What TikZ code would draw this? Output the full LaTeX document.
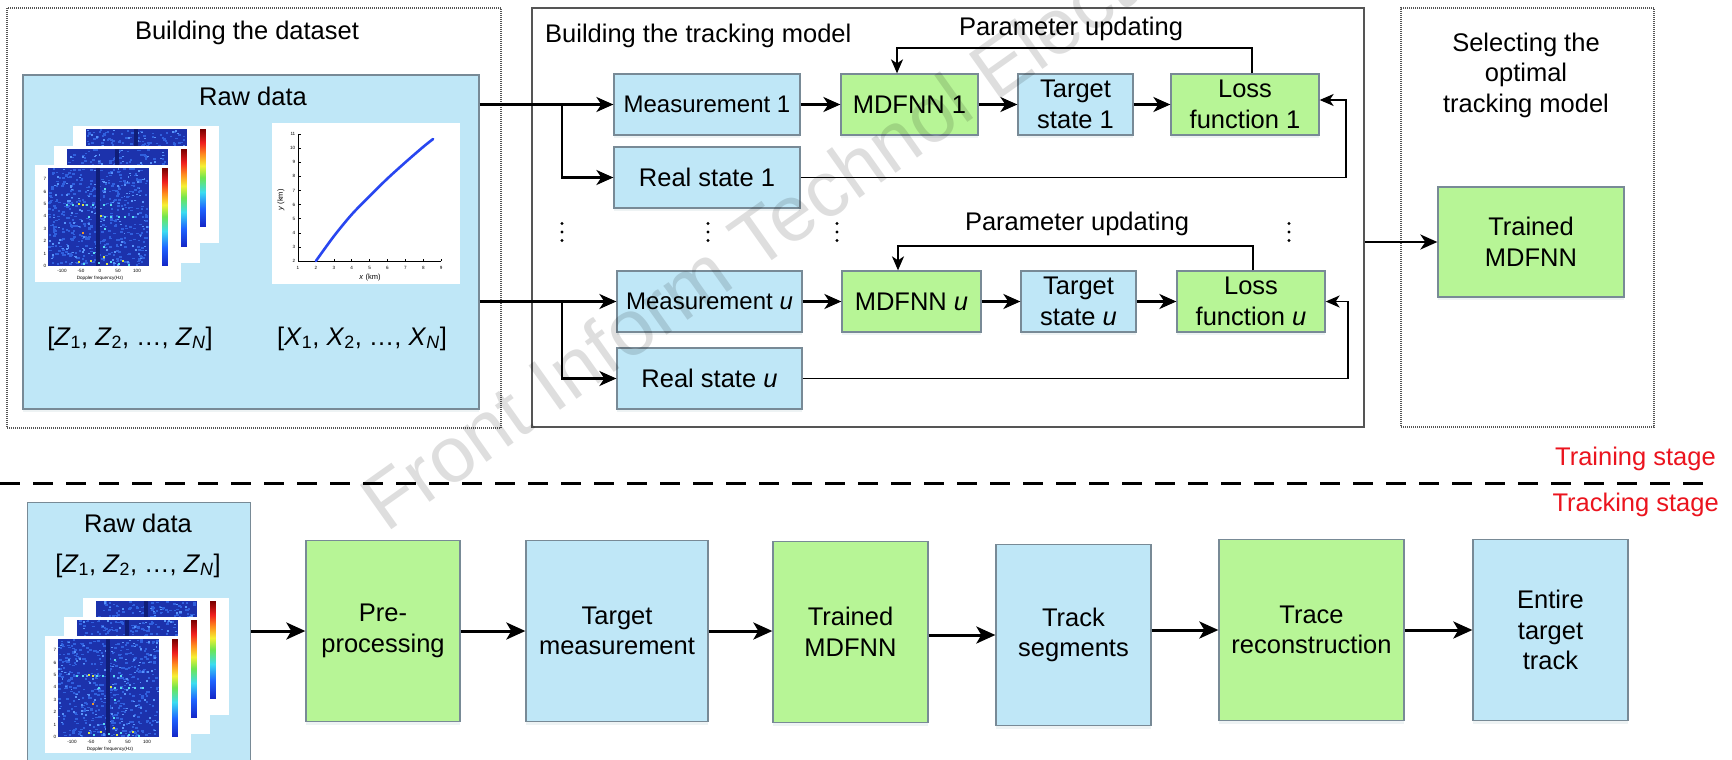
\documentclass[tikz,border=0pt]{standalone}
\usepackage{fontspec}
\setmainfont{Liberation Sans}
\usetikzlibrary{arrows.meta,shadows,calc}

\definecolor{boxblue}{RGB}{191,231,247}
\definecolor{boxgreen}{RGB}{183,245,150}
\definecolor{boxedge}{RGB}{120,138,150}
\definecolor{framegray}{RGB}{85,85,85}
\definecolor{specbase}{RGB}{28,50,172}
\definecolor{specdark}{RGB}{16,30,120}
\definecolor{speckA}{RGB}{48,96,222}
\definecolor{speckB}{RGB}{88,148,250}
\definecolor{speckC}{RGB}{90,220,240}
\definecolor{speckY}{RGB}{220,230,70}
\definecolor{speckO}{RGB}{240,150,40}
\definecolor{jet0}{RGB}{20,40,200}
\definecolor{jet1}{RGB}{30,100,255}
\definecolor{jet2}{RGB}{60,220,240}
\definecolor{jet3}{RGB}{110,230,80}
\definecolor{jet4}{RGB}{245,240,50}
\definecolor{jet5}{RGB}{255,140,30}
\definecolor{jet6}{RGB}{240,30,30}
\definecolor{jet7}{RGB}{120,0,0}
\definecolor{trackblue}{RGB}{40,70,240}
\definecolor{stagered}{RGB}{235,20,30}

% TikZ fits the central 25bp..75bp of a shading to the path
\pgfdeclareverticalshading{jet}{20bp}{color(0bp)=(jet0); color(25bp)=(jet0); color(34bp)=(jet1); color(42.5bp)=(jet2); color(50bp)=(jet3); color(56bp)=(jet4); color(62bp)=(jet5); color(68bp)=(jet6); color(75bp)=(jet7); color(100bp)=(jet7)}

\newcommand{\specpanel}[2]{%
  \fill[white] ({#1-13},{#2-3}) rectangle ({#1+133},{#2+114});
  \fill[specbase] (#1,#2) rectangle ({#1+101},{#2+98});
  \foreach \k in {1,...,430}{%
    \pgfmathsetmacro{\sx}{#1+rnd*98.5}%
    \pgfmathsetmacro{\sy}{#2+rnd*96.3}%
    \fill[speckA] (\sx,\sy) rectangle ++(2.5,1.7);}%
  \foreach \k in {1,...,120}{%
    \pgfmathsetmacro{\sx}{#1+rnd*99}%
    \pgfmathsetmacro{\sy}{#2+rnd*96.5}%
    \fill[speckB] (\sx,\sy) rectangle ++(1.9,1.5);}%
  \fill[specdark] ({#1+48},#2) rectangle ({#1+51.5},{#2+98});
  \foreach \a/\b/\c in {18/36/speckC,24/36/speckC,30/35/speckY,34/36/speckY,38/36/speckC,44/36/speckC,55/36/speckC,62/36/speckC,40/48/speckC,52/47/speckY,56/48/speckC,62/48/speckC,70/48/speckC,76/48/speckC,84/48/speckC,34/64/speckO,30/93/speckY,35/95/speckC,42/92/speckY,50/94/speckC,55/88/speckY,58/95/speckY,62/93/speckC,70/95/speckC,74/92/speckY,80/96/speckC,45/84/speckC,55/78/speckC,56/20/speckC,56/60/speckC}{%
    \fill[\c] ({#1+\a},{#2+\b}) rectangle ++(2.4,1.8);}%
  \shade[shading=jet] ({#1+110},#2) rectangle ({#1+124},{#2+97});
}
\newcommand{\specaxes}[2]{%
  \foreach \v in {0,...,7}{%
    \node[tickl,anchor=east] at ({#1-1.5},{#2+98-\v*12.4}) {\v};}%
  \foreach \t/\p in {-100/14,-50/33,0/52,50/70,100/89}{%
    \node[tickl] at ({#1+\p},{#2+103}) {\t};}%
  \node[tickl] at ({#1+52},{#2+110}) {Doppler frequency(Hz)};
}

\begin{document}
\begin{tikzpicture}[x=1pt,y=-1pt,
  font=\fontsize{25.5}{30.5}\selectfont,
  box/.style={draw=boxedge, line width=1.3pt, inner sep=0pt, align=center,
    drop shadow={shadow xshift=0pt, shadow yshift=-3pt, opacity=0.18, fill=boxblue!60!gray}},
  bbox/.style={box, fill=boxblue},
  gbox/.style={box, fill=boxgreen},
  dframe/.style={draw=framegray, line width=1.4pt, dash pattern=on 1pt off 1pt, inner sep=0pt},
  sframe/.style={draw=framegray, line width=1.6pt, inner sep=0pt},
  lbl/.style={inner sep=0pt, anchor=base},
  tickl/.style={inner sep=0pt, font=\fontsize{4.6}{5}\selectfont},
  arr/.style={line width=2.4pt, -{Stealth[length=17pt,width=15pt,inset=5pt]}},
  farr/.style={line width=1.8pt, -{Stealth[length=14pt,width=12pt,inset=4pt]}},
  barr/.style={line width=3pt, -{Stealth[length=19pt,width=17pt,inset=5pt]}},
  meas/.style={font=\fontsize{24}{29}\selectfont}
]
\useasboundingbox (0,0) rectangle (1732,760);
\clip (0,0) rectangle (1732,760);
\fill[white] (0,0) rectangle (1732,760);
\pgfmathsetseed{42}

% ---------- frames ----------
\node[dframe, minimum width=494pt, minimum height=420pt] (fds) at (254,218) {};
\node[sframe, minimum width=832pt, minimum height=419pt] (ftm) at (948,217.5) {};
\node[dframe, minimum width=253pt, minimum height=419pt] (fsel) at (1527.5,217.5) {};

\node[lbl] (tds) at (247,40) {Building the dataset};
\node[lbl, anchor=base west] (ttm) at (545,43) {Building the tracking model};
\node[inner sep=0pt, align=center] (tsel) at (1526,75) {Selecting the\\optimal\\tracking model};

% ---------- raw data (top) ----------
\node[bbox, minimum width=456pt, minimum height=334pt] (raw) at (251,242) {};
\node[lbl] (trd) at (253,105) {Raw data};

\specpanel{86}{129}
\specpanel{67}{149}
\specpanel{48}{168}
\specaxes{48}{168}

% trajectory plot
\fill[white] (272,123) rectangle (460,284);
\draw[line width=0.8pt] (298,261) -- (441,261);
\draw[line width=0.8pt] (298,261) -- (298,134);
\foreach \k in {1,...,9}{%
  \pgfmathsetmacro{\px}{298+(\k-1)*17.9}%
  \draw[line width=0.6pt] (\px,261) -- (\px,258.5);
  \node[tickl] at (\px,268) {\k};}
\foreach \v in {2,...,11}{%
  \pgfmathsetmacro{\py}{261-(\v-2)*14.1}%
  \draw[line width=0.6pt] (298,\py) -- (300.5,\py);
  \node[tickl,anchor=east] at (295.5,\py) {\v};}
\draw[trackblue, line width=2.6pt, line cap=round] plot[smooth] coordinates
  {(315.9,261) (333.8,236.3) (351.7,214.5) (369.6,196.1) (387.5,178.5) (405.4,162.3) (423.3,146.8) (433.1,139.0)};
\node[inner sep=0pt, rotate=90, font=\fontsize{7.5}{8}\selectfont] (ylab) at (281,200) {\textit{y} (km)};
\node[inner sep=0pt, font=\fontsize{7.5}{8}\selectfont] (xlab) at (370,278) {\textit{x} (km)};

\node[lbl] (zl) at (130,345) {[\textit{Z}\textsubscript{1}, \textit{Z}\textsubscript{2}, …, \textit{Z}\textsubscript{\textit{N}}]};
\node[lbl] (xl) at (362,345) {[\textit{X}\textsubscript{1}, \textit{X}\textsubscript{2}, …, \textit{X}\textsubscript{\textit{N}}]};

% ---------- tracking model ----------
\node[bbox, meas, minimum width=186pt, minimum height=61pt] (m1) at (707,104.5) {Measurement 1};
\node[gbox, minimum width=137pt, minimum height=61pt] (n1) at (909.5,104.5) {MDFNN 1};
\node[bbox, minimum width=115pt, minimum height=61pt] (t1) at (1075.5,104.5) {Target\\state 1};
\node[gbox, minimum width=148pt, minimum height=61pt] (l1) at (1245,104.5) {Loss\\function 1};
\node[bbox, minimum width=186pt, minimum height=61pt] (r1) at (707,177.5) {Real state 1};

\node[bbox, meas, minimum width=185pt, minimum height=61pt] (mu) at (709.5,301.5) {Measurement \textit{u}};
\node[gbox, minimum width=139pt, minimum height=61pt] (nu) at (911.5,301.5) {MDFNN \textit{u}};
\node[bbox, minimum width=115pt, minimum height=61pt] (tu) at (1078.5,301.5) {Target\\state \textit{u}};
\node[gbox, minimum width=148pt, minimum height=61pt] (lu) at (1251,301.5) {Loss\\function \textit{u}};
\node[bbox, minimum width=185pt, minimum height=61pt] (ru) at (709.5,378.5) {Real state \textit{u}};

\node[lbl] (pu1) at (1071,36) {Parameter updating};
\node[lbl] (pu2) at (1077,230) {Parameter updating};

\foreach \x in {562,708,837,1289}{%
  \foreach \d in {-8.5,0,8.5}{\fill (\x,232+\d) circle (1.6);}}

% connectors, row 1
\coordinate (br1) at (562,104.5);
\coordinate (fb1) at (1346,100);
\draw[arr] (raw.east |- m1.west) -- (m1.west);
\draw[arr] (br1) |- (r1.west);
\draw[arr] (m1.east) -- (n1.west);
\draw[arr] (n1.east) -- (t1.west);
\draw[arr] (t1.east) -- (l1.west);
\draw[farr] (r1.east) -| (fb1) -- ([yshift=4.5pt]l1.east);
\draw[farr] ([xshift=7pt]l1.north) -- ++(0,-25) -| ([xshift=-12.5pt]n1.north);

% connectors, row u
\coordinate (bru) at (562,301.5);
\coordinate (fbu) at (1348,301.5);
\draw[arr] (raw.east |- mu.west) -- (mu.west);
\draw[arr] (bru) |- (ru.west);
\draw[arr] (mu.east) -- (nu.west);
\draw[arr] (nu.east) -- (tu.west);
\draw[arr] (tu.east) -- (lu.west);
\draw[farr] (ru.east) -| (fbu) -- (lu.east);
\draw[farr] ([xshift=2pt]lu.north) -- ++(0,-24) -| ([xshift=-13.5pt]nu.north);

% ---------- selecting ----------
\node[gbox, minimum width=186pt, minimum height=110pt] (trn) at (1531,242) {Trained\\MDFNN};
\draw[arr] (ftm.east |- trn.west) -- (trn.west);

% ---------- separator ----------
\coordinate (sepl) at (0,483);
\coordinate (sepr) at (1716,483);
\draw[line width=3pt, dash pattern=on 20pt off 13pt] (sepl) -- (sepr);
\node[lbl, anchor=base east, text=stagered] (trs) at (1716,465) {Training stage};
\node[lbl, anchor=base east, text=stagered] (tks) at (1719,511) {Tracking stage};

% ---------- tracking stage ----------
\node[bbox, minimum width=223pt, minimum height=290pt, anchor=north west] (rawb) at (27,502) {};
\node[lbl] (trdb) at (138,532) {Raw data};
\node[lbl] (zlb) at (138,572) {[\textit{Z}\textsubscript{1}, \textit{Z}\textsubscript{2}, …, \textit{Z}\textsubscript{\textit{N}}]};
\specpanel{96}{601}
\specpanel{77}{620}
\specpanel{58}{639}
\specaxes{58}{639}

\node[gbox, minimum width=154pt, minimum height=181pt] (pre) at (383,631) {Pre-\\processing};
\node[bbox, minimum width=182pt, minimum height=181pt] (tm) at (617,631) {Target\\measurement};
\node[gbox, minimum width=155pt, minimum height=181pt] (tr) at (850.5,632) {Trained\\MDFNN};
\node[bbox, minimum width=155pt, minimum height=181pt] (ts) at (1073.5,635) {Track\\segments};
\node[gbox, minimum width=185pt, minimum height=181pt] (rc) at (1311.5,630) {Trace\\reconstruction};
\node[bbox, minimum width=155pt, minimum height=181pt] (et) at (1550.5,630) {Entire\\target\\track};

\draw[barr] (rawb.east |- pre.west) -- (pre.west);
\draw[barr] (pre.east) -- (tm.west);
\draw[barr] (tm.east) -- (tm.east -| tr.west);
\draw[barr] (tr.east |- ts.west) -- (ts.west);
\draw[barr] (ts.east |- rc.west) -- (rc.west);
\draw[barr] (rc.east) -- (et.west);

% ---------- watermark ----------
\node[inner sep=0pt, anchor=base west, rotate=35.3, text=black, opacity=0.13,
  font=\fontsize{79}{79}\selectfont] (wm) at (386,534) {Front Inform Technol Electr};
\end{tikzpicture}
\end{document}
